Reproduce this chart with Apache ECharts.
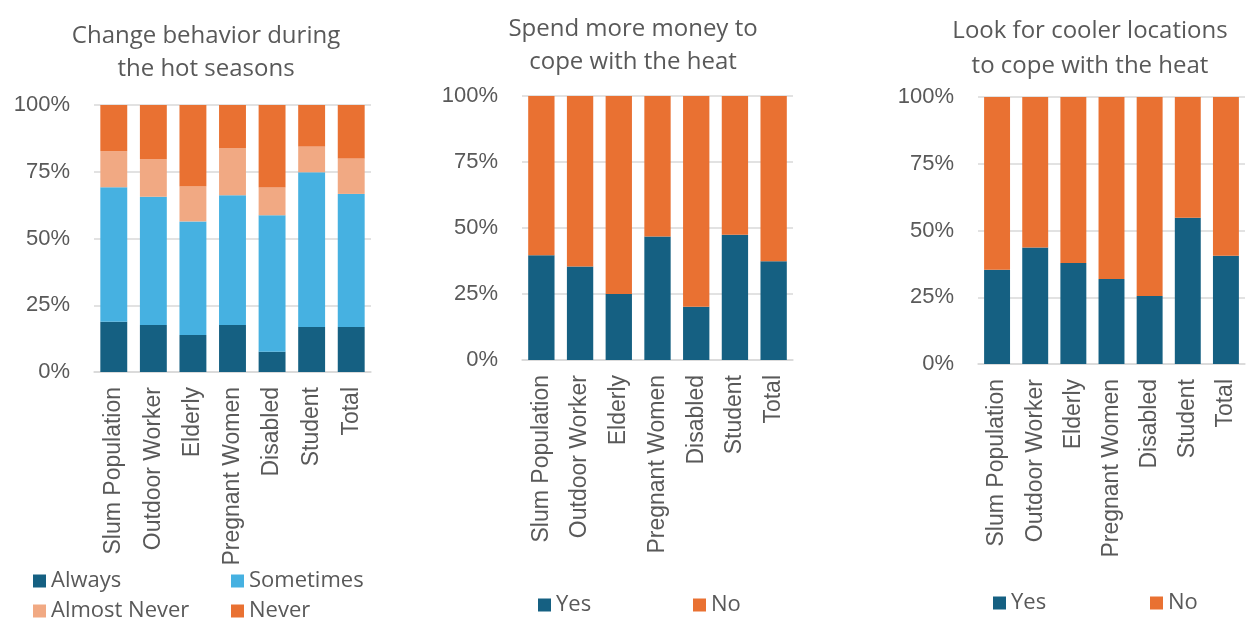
<!DOCTYPE html>
<html>
<head>
<meta charset="utf-8">
<script src="https://cdn.jsdelivr.net/npm/echarts@6/dist/echarts.min.js"></script>
<style>
  html, body { margin: 0; padding: 0; background: #fff; }
  #chart { width: 1246px; height: 621px; }
</style>
</head>
<body>
<div id="chart"></div>
<script>
// Groups surveyed (same for all three panels)
const categories = ['Slum Population', 'Outdoor Worker', 'Elderly', 'Pregnant Women', 'Disabled', 'Student', 'Total'];

// Panel 1: change behavior during the hot seasons (% of respondents)
const always      = [18.8, 17.6, 13.9, 17.6, 7.6, 16.9, 16.9];
const sometimes   = [50.4, 48.0, 42.5, 48.6, 51.1, 57.9, 49.8];
const almostNever = [13.5, 14.1, 13.2, 17.7, 10.4, 9.7, 13.3];
const never       = [17.3, 20.3, 30.4, 16.1, 30.9, 15.5, 20.0];

// Panel 2: spend more money to cope with the heat (%)
const moneyYes = [39.7, 35.4, 25.0, 46.8, 20.2, 47.4, 37.4];
const moneyNo  = moneyYes.map(v => +(100 - v).toFixed(1));

// Panel 3: look for cooler locations to cope with the heat (%)
const coolYes = [35.3, 43.6, 37.8, 31.8, 25.5, 54.8, 40.5];
const coolNo  = coolYes.map(v => +(100 - v).toFixed(1));

const yTicks = [0, 25, 50, 75, 100];

const C = {
  dark: '#156082',
  light: '#46B1E1',
  peach: '#F1A983',
  orange: '#E97132',
  text: '#595959',
  grid: '#D9D9D9'
};
const titleFont = '"Open Sans", "Noto Sans", sans-serif';
const axisFont = '"Liberation Sans", Arial, sans-serif';

const grids = [
  { left: 94,  top: 105, width: 277, height: 267 },
  { left: 522, top: 96,  width: 271, height: 264 },
  { left: 978, top: 97,  width: 267, height: 267 }
];

function xAxis(i) {
  return {
    type: 'category', gridIndex: i, data: categories,
    axisLine: { lineStyle: { color: C.grid, width: 1.5 } },
    axisTick: { show: false },
    axisLabel: { rotate: 90, margin: 15, color: C.text, fontSize: 23, fontFamily: axisFont }
  };
}
function yAxis(i) {
  return {
    type: 'value', gridIndex: i, min: yTicks[0], max: yTicks[yTicks.length - 1], interval: 25,
    axisLine: { show: false }, axisTick: { show: false },
    splitLine: { lineStyle: { color: C.grid, width: 1.5 } },
    axisLabel: { margin: 24, color: C.text, fontSize: 22, fontFamily: axisFont, formatter: '{value}%' }
  };
}
function bar(name, data, color, idx, stack) {
  return {
    name, type: 'bar', data, stack, xAxisIndex: idx, yAxisIndex: idx,
    barCategoryGap: '32%', itemStyle: { color }, emphasis: { disabled: true }
  };
}
function legend(name, left, top) {
  return {
    data: [name], left, top, padding: 0, icon: 'rect', itemWidth: 13, itemHeight: 13, itemGap: 6,
    textStyle: { color: C.text, fontSize: 22, fontFamily: titleFont },
    selectedMode: false
  };
}
function title(text, x, top, lh) {
  return {
    text, left: x, top, padding: 0, textAlign: 'center',
    textStyle: { color: C.text, fontSize: 24, fontWeight: 'normal', fontFamily: titleFont, lineHeight: lh }
  };
}

const chart = echarts.init(document.getElementById('chart'), null, { renderer: 'canvas' });
chart.setOption({
  animation: false,
  title: [
    title('Change behavior during\nthe hot seasons', 206, 20, 33),
    title('Spend more money to\ncope with the heat', 633, 13, 33),
    title('Look for cooler locations\nto cope with the heat', 1090, 14, 35)
  ],
  legend: [
    legend('Always', 33, 570),
    legend('Sometimes', 231, 570),
    legend('Almost Never', 33, 600),
    legend('Never', 231, 600),
    legend('Yes', 538, 594),
    legend('No', 693, 594),
    legend('Yes', 993, 592),
    legend('No', 1150, 592)
  ],
  grid: grids,
  xAxis: [xAxis(0), xAxis(1), xAxis(2)],
  yAxis: [yAxis(0), yAxis(1), yAxis(2)],
  series: [
    bar('Always', always, C.dark, 0, 'behavior'),
    bar('Sometimes', sometimes, C.light, 0, 'behavior'),
    bar('Almost Never', almostNever, C.peach, 0, 'behavior'),
    bar('Never', never, C.orange, 0, 'behavior'),
    bar('Yes', moneyYes, C.dark, 1, 'money'),
    bar('No', moneyNo, C.orange, 1, 'money'),
    bar('Yes', coolYes, C.dark, 2, 'cool'),
    bar('No', coolNo, C.orange, 2, 'cool')
  ]
});
</script>
</body>
</html>
